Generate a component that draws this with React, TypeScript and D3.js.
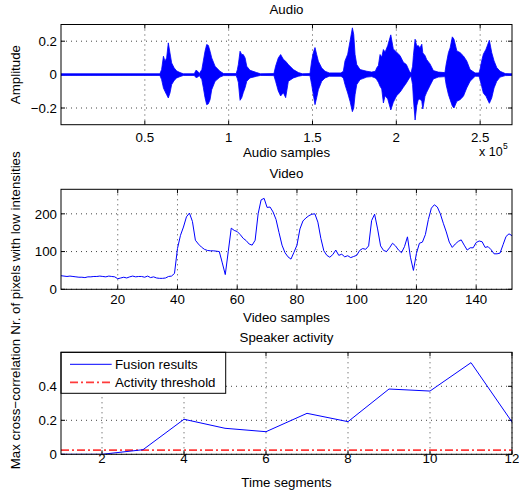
import React from "react";
import * as d3 from "d3";

// audio envelope, x in units of 1e5 samples
const audioX = [0, 0.59, 0.6, 0.611, 0.62, 0.63, 0.64, 0.65, 0.66, 0.675, 0.69, 0.71, 0.73, 0.795, 0.805, 0.815, 0.825, 0.84, 0.849, 0.859, 0.869, 0.879, 0.889, 0.899, 0.919, 0.948, 0.97, 1.045, 1.052, 1.058, 1.068, 1.078, 1.087, 1.098, 1.108, 1.127, 1.167, 1.19, 1.27, 1.28, 1.296, 1.31, 1.326, 1.34, 1.356, 1.386, 1.416, 1.44, 1.485, 1.495, 1.505, 1.515, 1.525, 1.535, 1.555, 1.575, 1.6, 1.67, 1.684, 1.694, 1.71, 1.724, 1.738, 1.746, 1.754, 1.764, 1.784, 1.824, 1.853, 1.875, 1.883, 1.893, 1.903, 1.913, 1.923, 1.933, 1.949, 1.967, 1.982, 2.002, 2.022, 2.042, 2.06, 2.078, 2.088, 2.097, 2.102, 2.112, 2.122, 2.131, 2.141, 2.152, 2.158, 2.171, 2.181, 2.201, 2.221, 2.25, 2.29, 2.297, 2.311, 2.321, 2.334, 2.344, 2.361, 2.38, 2.4, 2.42, 2.44, 2.47, 2.493, 2.499, 2.509, 2.519, 2.535, 2.555, 2.569, 2.583, 2.599, 2.619, 2.65, 2.69];
const audioTop = [0.005, 0.005, 0.03, 0.11, 0.08, 0.1, 0.19, 0.13, 0.07, 0.04, 0.022, 0.012, 0.005, 0.005, 0.026, 0.02, 0.006, 0.03, 0.082, 0.14, 0.18, 0.175, 0.14, 0.1, 0.05, 0.02, 0.006, 0.006, 0.03, 0.062, 0.14, 0.12, 0.12, 0.1, 0.05, 0.026, 0.012, 0.005, 0.006, 0.05, 0.1, 0.12, 0.092, 0.08, 0.06, 0.03, 0.012, 0.005, 0.006, 0.082, 0.132, 0.162, 0.12, 0.08, 0.04, 0.02, 0.01, 0.01, 0.02, 0.082, 0.122, 0.2, 0.28, 0.24, 0.12, 0.06, 0.03, 0.02, 0.015, 0.02, 0.04, 0.054, 0.12, 0.104, 0.15, 0.134, 0.174, 0.238, 0.154, 0.134, 0.114, 0.074, 0.06, 0.02, 0.01, 0.05, 0.114, 0.212, 0.17, 0.174, 0.16, 0.182, 0.13, 0.114, 0.09, 0.064, 0.024, 0.015, 0.012, 0.06, 0.132, 0.16, 0.226, 0.212, 0.142, 0.132, 0.112, 0.082, 0.03, 0.01, 0.01, 0.03, 0.082, 0.122, 0.152, 0.206, 0.132, 0.082, 0.042, 0.02, 0.006, 0.005];
const audioBot = [-0.005, -0.005, -0.03, -0.08, -0.1, -0.12, -0.14, -0.11, -0.06, -0.035, -0.02, -0.012, -0.005, -0.005, -0.018, -0.015, -0.006, -0.03, -0.078, -0.138, -0.18, -0.175, -0.15, -0.09, -0.04, -0.015, -0.006, -0.006, -0.025, -0.048, -0.154, -0.138, -0.108, -0.078, -0.04, -0.02, -0.01, -0.005, -0.006, -0.04, -0.098, -0.128, -0.108, -0.138, -0.04, -0.02, -0.01, -0.005, -0.006, -0.06, -0.12, -0.18, -0.138, -0.09, -0.04, -0.02, -0.01, -0.01, -0.02, -0.06, -0.11, -0.16, -0.222, -0.2, -0.12, -0.06, -0.03, -0.015, -0.012, -0.02, -0.03, -0.046, -0.07, -0.086, -0.17, -0.126, -0.146, -0.212, -0.166, -0.126, -0.106, -0.076, -0.05, -0.02, -0.01, -0.06, -0.146, -0.272, -0.186, -0.15, -0.146, -0.16, -0.206, -0.13, -0.106, -0.066, -0.026, -0.015, -0.012, -0.06, -0.12, -0.15, -0.188, -0.2, -0.16, -0.15, -0.13, -0.08, -0.04, -0.01, -0.01, -0.03, -0.07, -0.11, -0.13, -0.172, -0.14, -0.08, -0.04, -0.015, -0.006, -0.005];

// video: pixels with low intensities, samples 1..152
const videoValues = [
  36, 35, 34, 35, 34, 33, 32, 32, 31, 33, 33, 34, 34, 35, 34, 33, 35, 34, 33, 28,
  30, 32, 30, 33, 35, 33, 34, 34, 32, 35, 31, 33, 30, 29, 29, 30, 34, 35, 42, 108,
  143, 165, 192, 202, 180, 130, 120, 112, 106, 103, 102, 102, 101, 100, 70, 39, 100, 162, 156, 153,
  145, 135, 129, 120, 117, 130, 200, 237, 241, 217, 218, 205, 185, 150, 117, 97, 86, 80, 98, 117,
  160, 181, 189, 195, 199, 200, 178, 135, 102, 90, 85, 92, 104, 90, 93, 86, 89, 84, 87, 90,
  103, 108, 106, 115, 182, 199, 160, 115, 103, 100, 110, 122, 115, 104, 97, 113, 139, 85, 50, 95,
  122, 125, 145, 185, 215, 224, 218, 200, 175, 152, 125, 111, 120, 127, 131, 117, 104, 110, 110, 124,
  128, 126, 111, 113, 105, 94, 94, 96, 118, 140, 147, 142,
];

// speaker activity
const segments = [1, 2, 3, 4, 5, 6, 7, 8, 9, 10, 11, 12];
const fusion = [0, 0, 0.027, 0.206, 0.153, 0.133, 0.241, 0.192, 0.384, 0.372, 0.539, 0.19];
const threshold = 0.024;

const audioXTicks = [0.5, 1, 1.5, 2, 2.5];
const audioYTicks = [-0.2, 0, 0.2];
const videoXTicks = [20, 40, 60, 80, 100, 120, 140];
const videoYTicks = [0, 100, 200];
const speakerXTicks = [2, 4, 6, 8, 10, 12];
const speakerYTicks = [0, 0.2, 0.4];

const font = "'Liberation Sans', Arial, Helvetica, sans-serif";
const L = 61;
const R = 512;
const fmt = (v: number) => String(v).replace("-", "\u2212");

const Axes = ({ x, y, xTicks, yTicks, top, bottom, tickBase, children }: any) => (
  <g>
    {xTicks.map((t: number) => (
      <g key={"x" + t}>
        <line x1={x(t)} x2={x(t)} y1={top} y2={bottom} stroke="#444" strokeDasharray="1,4" />
        <line x1={x(t)} x2={x(t)} y1={bottom} y2={bottom - 4} stroke="#000" />
        <line x1={x(t)} x2={x(t)} y1={top} y2={top + 4} stroke="#000" />
        <text x={x(t)} y={tickBase} textAnchor="middle">{fmt(t)}</text>
      </g>
    ))}
    {yTicks.map((t: number) => (
      <g key={"y" + t}>
        <line x1={L} x2={R} y1={y(t)} y2={y(t)} stroke="#444" strokeDasharray="1,4" />
        <line x1={L} x2={L + 4} y1={y(t)} y2={y(t)} stroke="#000" />
        <line x1={R} x2={R - 4} y1={y(t)} y2={y(t)} stroke="#000" />
        <text x={57} y={y(t)} dy="0.36em" textAnchor="end">{fmt(t)}</text>
      </g>
    ))}
    {children}
    <rect x={L} y={top} width={R - L} height={bottom - top} fill="none" stroke="#000" />
  </g>
);

export default function App() {
  // audio panel
  const aTop = 24.5, aBot = 124.7;
  const ax = d3.scaleLinear().domain([0, 2.69]).range([L, R]);
  const ay = d3.scaleLinear().domain([-0.3, 0.3]).range([aBot, aTop]);
  const audioPts = audioX.map((v, i) => ({ x: v, t: audioTop[i], b: audioBot[i] }));
  const audioArea = d3.area<any>().x((d) => ax(d.x)).y0((d) => ay(d.b)).y1((d) => ay(d.t))(audioPts) || "";

  // video panel
  const vTop = 189.3, vBot = 289.3;
  const vx = d3.scaleLinear().domain([1, 152]).range([L, R]);
  const vy = d3.scaleLinear().domain([0, 265]).range([vBot, vTop]);
  const videoLine = d3.line<number>().x((_, i) => vx(i + 1)).y((d) => vy(d))(videoValues) || "";

  // speaker panel
  const sTop = 352.3, sBot = 454.3;
  const sx = d3.scaleLinear().domain([1, 12]).range([L, R]);
  const sy = d3.scaleLinear().domain([0, 0.6]).range([sBot, sTop]);
  const fusionLine = d3.line<number>().x((_, i) => sx(segments[i])).y((d) => sy(d))(fusion) || "";

  return (
    <svg width={519} height={493} style={{ position: "absolute", left: 0, top: 0, background: "#fff" }} fontFamily={font} fontSize={13.3}>
      <rect width={519} height={493} fill="#fff" />
      <defs>
        <clipPath id="clipA"><rect x={L} y={aTop} width={R - L} height={aBot - aTop} /></clipPath>
        <clipPath id="clipS"><rect x={L} y={sTop} width={R - L} height={sBot - sTop} /></clipPath>
      </defs>

      {/* Audio */}
      <text x={286.5} y={13.5} textAnchor="middle">Audio</text>
      <Axes x={ax} y={ay} xTicks={audioXTicks} yTicks={audioYTicks} top={aTop} bottom={aBot} tickBase={142}>
        <g clipPath="url(#clipA)">
          <path d={audioArea} fill="#0000ff" stroke="#0000ff" strokeWidth={0.8} />
        </g>
      </Axes>
      <text x={286.5} y={157} textAnchor="middle">Audio samples</text>
      <text x={479} y={155.5} fontSize={12.5}>x 10</text>
      <text x={503} y={149} fontSize={8.5}>5</text>
      <text transform={`translate(20,${(aTop + aBot) / 2}) rotate(-90)`} textAnchor="middle">Amplitude</text>

      {/* Video */}
      <text x={286.5} y={178.3} textAnchor="middle">Video</text>
      <Axes x={vx} y={vy} xTicks={videoXTicks} yTicks={videoYTicks} top={vTop} bottom={vBot} tickBase={304}>
        <path d={videoLine} fill="none" stroke="#0000ff" strokeWidth={1} />
      </Axes>
      <text x={286.5} y={321.5} textAnchor="middle">Video samples</text>
      <text transform="translate(20,243) rotate(-90)" textAnchor="middle">Nr. of pixels with low intensities</text>

      {/* Speaker activity */}
      <text x={286.5} y={341.5} textAnchor="middle">Speaker activity</text>
      <Axes x={sx} y={sy} xTicks={speakerXTicks} yTicks={speakerYTicks} top={sTop} bottom={sBot} tickBase={463}>
        <g clipPath="url(#clipS)">
          <line x1={L} x2={R} y1={sy(threshold)} y2={sy(threshold)} stroke="#ff3b3b" strokeWidth={1.8} strokeDasharray="8,3,2,3" />
          <path d={fusionLine} fill="none" stroke="#0000ff" strokeWidth={1} />
        </g>
        <g>
          <rect x={L} y={sTop} width={164.7} height={41} fill="#fff" stroke="#000" />
          <line x1={70} x2={111.7} y1={364.3} y2={364.3} stroke="#0000ff" />
          <text x={115} y={364.3} dy="0.36em">Fusion results</text>
          <line x1={70} x2={111.7} y1={382.3} y2={382.3} stroke="#ff3b3b" strokeWidth={1.8} strokeDasharray="8,3,2,3" />
          <text x={115} y={382.3} dy="0.36em">Activity threshold</text>
        </g>
      </Axes>
      <text x={286.5} y={486.5} textAnchor="middle">Time segments</text>
      <text transform="translate(20,404) rotate(-90)" textAnchor="middle">{"Max cross\u2212correlation"}</text>
    </svg>
  );
}
